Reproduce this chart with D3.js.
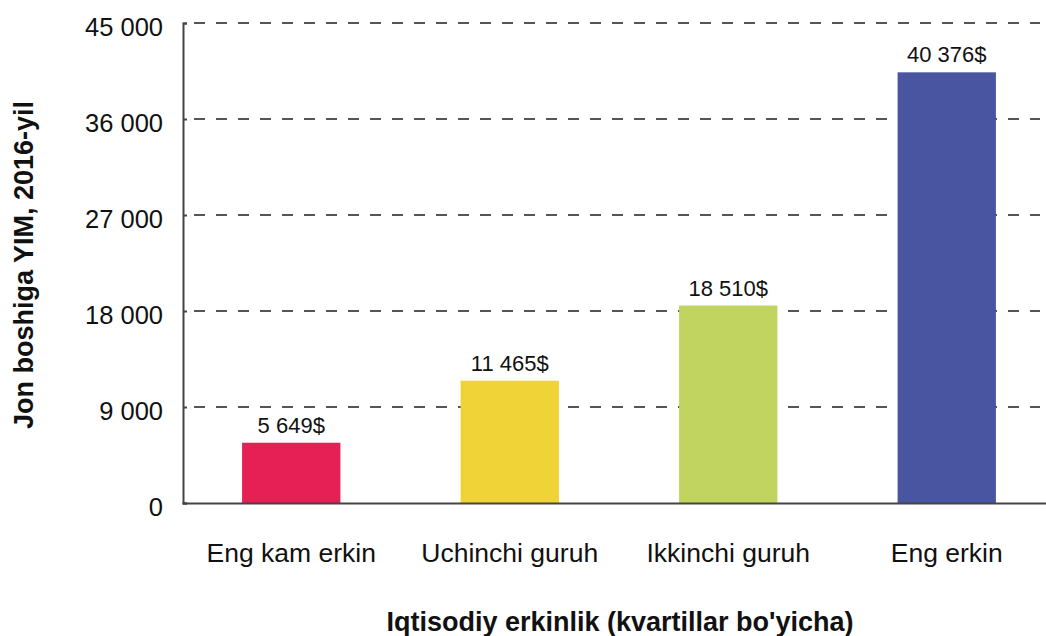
<!DOCTYPE html>
<html>
<head>
<meta charset="utf-8">
<script src="https://cdn.jsdelivr.net/npm/d3@7"></script>
<style>
  html, body { margin: 0; padding: 0; background: #fff; }
  svg { display: block; font-family: "Liberation Sans", Arial, Helvetica, sans-serif; }
</style>
</head>
<body>
<svg id="chart" width="1046" height="636"></svg>
<script>
const categories = ["Eng kam erkin", "Uchinchi guruh", "Ikkinchi guruh", "Eng erkin"];
const values = [5649, 11465, 18510, 40376];
const valueLabels = ["5 649$", "11 465$", "18 510$", "40 376$"];
const colors = ["#E61F55", "#F0D336", "#C0D45F", "#4A55A1"];
const yTicks = [0, 9000, 18000, 27000, 36000, 45000];
const yTickLabels = ["0", "9 000", "18 000", "27 000", "36 000", "45 000"];
const yTitle = "Jon boshiga YIM, 2016-yil";
const xTitle = "Iqtisodiy erkinlik (kvartillar bo'yicha)";

const svg = d3.select("#chart");
const mLeft = 183, mRight = 1056, mTop = 23, mBottom = 503;

const x = d3.scaleBand().domain(categories).range([mLeft - 1, mRight])
  .paddingInner(0.55).paddingOuter(0.275);
const y = d3.scaleLinear().domain([0, 45000]).range([mBottom, mTop]);

// gridlines
svg.append("g").selectAll("line").data(yTicks.filter(d => d > 0)).join("line")
  .attr("x1", mLeft + 4).attr("x2", 1040)
  .attr("y1", d => y(d)).attr("y2", d => y(d))
  .attr("stroke", "#555").attr("stroke-width", 2)
  .attr("stroke-dasharray", "11,11").attr("stroke-dashoffset", -7);

// bars
svg.append("g").selectAll("rect").data(values).join("rect")
  .attr("x", (d, i) => x(categories[i]))
  .attr("width", x.bandwidth())
  .attr("y", d => y(d))
  .attr("height", d => y(0) - y(d))
  .attr("fill", (d, i) => colors[i]);

// value labels
svg.append("g").selectAll("text").data(values).join("text")
  .attr("x", (d, i) => x(categories[i]) + x.bandwidth() / 2)
  .attr("y", d => y(d) - 10)
  .attr("text-anchor", "middle")
  .attr("font-size", 22).attr("fill", "#111")
  .text((d, i) => valueLabels[i]);

// y axis
const yAxis = d3.axisLeft(y).tickValues(yTicks).tickSize(-4).tickPadding(20)
  .tickFormat((d, i) => yTickLabels[i]);
const gy = svg.append("g").attr("transform", `translate(${mLeft},0)`).call(yAxis);
gy.select(".domain").attr("stroke", "#444").attr("stroke-width", 2);
gy.selectAll(".tick line").attr("stroke", "#444").attr("stroke-width", 2);
gy.selectAll(".tick text").attr("font-size", 25.5).attr("fill", "#111")
  .attr("font-family", "'Liberation Sans', Arial, sans-serif").attr("dy", "0.5em");

// x axis
const xAxis = d3.axisBottom(x).tickSize(0).tickPadding(40);
const gx = svg.append("g").attr("transform", `translate(0,${mBottom})`).call(xAxis);
gx.select(".domain").attr("stroke", "#444").attr("stroke-width", 2);
gx.selectAll(".tick text").attr("font-size", 26.5).attr("fill", "#111")
  .attr("font-family", "'Liberation Sans', Arial, sans-serif");

// titles
svg.append("text")
  .attr("transform", `translate(33,${(mTop + mBottom) / 2 + 2}) rotate(-90)`)
  .attr("text-anchor", "middle").attr("font-weight", "bold")
  .attr("font-size", 27).attr("fill", "#111").text(yTitle);
svg.append("text")
  .attr("x", 620).attr("y", 631)
  .attr("text-anchor", "middle").attr("font-weight", "bold")
  .attr("font-size", 27).attr("fill", "#111").text(xTitle);
</script>
</body>
</html>
